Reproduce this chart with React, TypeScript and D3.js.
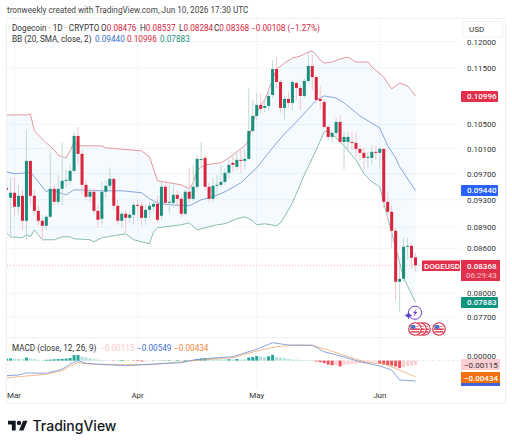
import React from "react";
import * as d3 from "d3";

const opens = [.09481,.09330,.09406,.09196,.09360,.08991,.09902,.09360,.09136,.08991,.08919,.09049,.09466,.09270,.09466,.09589,.09589,.09744,.10308,.10015,.09527,.09345,.09421,.09136,.09020,.09421,.09512,.09619,.09211,.08991,.09093,.09034,.09078,.09225,.09211,.09034,.09151,.09196,.09240,.09064,.09497,.09255,.09255,.09375,.09315,.09093,.09421,.09315,.09497,.09918,.09950,.09497,.09315,.09512,.09527,.09573,.09713,.09871,.09807,.09918,.09902,.09934,.10391,.10646,.10836,.10784,.10818,.11012,.11481,.11244,.10784,.10941,.10871,.11226,.11136,.10994,.11262,.11537,.11334,.10941,.10888,.10459,.10292,.10358,.10543,.10209,.10209,.10209,.10193,.10095,.10031,.09950,.09950,.10047,.10031,.10095,.09270,.09122,.08847,.08150,.08189,.08622,.08636,.08476];
const highs = [.09729,.09635,.09650,.09527,.09451,.10408,.09902,.09451,.09225,.09078,.09078,.10031,.09527,.09682,.10193,.09760,.09839,.10375,.10459,.10079,.09604,.09481,.09481,.09225,.09573,.09604,.09791,.09635,.09300,.09122,.09151,.09122,.09270,.09300,.09255,.09225,.09255,.09300,.09360,.09573,.09604,.09527,.09527,.09451,.09345,.09451,.09791,.09839,.09998,.10209,.09998,.09558,.09635,.09682,.09839,.09791,.09918,.09998,.10063,.10079,.10079,.11136,.10923,.11047,.11030,.10923,.11100,.11648,.11705,.11280,.10994,.11065,.11280,.11262,.11190,.11316,.11800,.11743,.11372,.11172,.10923,.10492,.10408,.10611,.10663,.10375,.10375,.10375,.10358,.10160,.10112,.10047,.10160,.10144,.10128,.10095,.09421,.09225,.08890,.08375,.08748,.08748,.08678,.08537];
const lows = [.09345,.08748,.09049,.09078,.08861,.08720,.09225,.09078,.08933,.08706,.08861,.09034,.09225,.09225,.09225,.09481,.09527,.09729,.09839,.09375,.09300,.09270,.09078,.08890,.08933,.09330,.09451,.09151,.08933,.08890,.08819,.08962,.08933,.09078,.08919,.08933,.09034,.09122,.08962,.09005,.09211,.09107,.09181,.09225,.09049,.09064,.09255,.09285,.09451,.09791,.09451,.09255,.09270,.09375,.09497,.09527,.09635,.09729,.09760,.09713,.09760,.09918,.10358,.10577,.10697,.10715,.10749,.10958,.11136,.10697,.10577,.10784,.10749,.10923,.10749,.10958,.11226,.11100,.10871,.10749,.10441,.10242,.10193,.10275,.10193,.09760,.10079,.10079,.09950,.09918,.09760,.09791,.09839,.09918,.09791,.09181,.09005,.08608,.07904,.07766,.08150,.08443,.08321,.08284];
const closes = [.09451,.09406,.09196,.09360,.08991,.09902,.09360,.09136,.08991,.08919,.09049,.09466,.09270,.09466,.09589,.09604,.09744,.10308,.10015,.09527,.09345,.09421,.09136,.09005,.09421,.09512,.09619,.09211,.08991,.09093,.09034,.09078,.09225,.09211,.09034,.09151,.09211,.09240,.09005,.09497,.09255,.09270,.09375,.09315,.09093,.09421,.09315,.09497,.09934,.09934,.09497,.09315,.09512,.09527,.09573,.09713,.09839,.09839,.09918,.09902,.09934,.10391,.10646,.10836,.10766,.10818,.10994,.11481,.11244,.10784,.10941,.10871,.11244,.11136,.10994,.11262,.11537,.11334,.10923,.10905,.10459,.10292,.10358,.10543,.10209,.10292,.10292,.10193,.10095,.10031,.09950,.09966,.10047,.10031,.10095,.09270,.09122,.08847,.08150,.08189,.08622,.08636,.08471,.08368];

const upperDays = [0,5,6,7,10,12,13,14,15,16,17,18,24,25,28,34,36,38,41,44,46,47,48,50,54,56,60,61,62,63,65,66,68,70,72,74,76,77,78,79,80,82,84,86,88,91,92,95,97,99,101,103];
const upperBand = [.10663,.10663,.10680,.10391,.10193,.10079,.09998,.09966,.09950,.10063,.10209,.10144,.10144,.10112,.10095,.10063,.09966,.09589,.09558,.09527,.09466,.09558,.09760,.09839,.09871,.09950,.10144,.10242,.10526,.10715,.10923,.11100,.11481,.11592,.11685,.11724,.11800,.11819,.11743,.11648,.11592,.11611,.11667,.11705,.11611,.11611,.11519,.11334,.11118,.11226,.11172,.10996];
const basisDays = [0,2,5,6,7,9,10,11,15,17,24,29,34,36,38,41,46,48,49,52,55,59,63,65,68,70,73,76,78,80,83,85,89,94,96,98,99,103];
const basisBand = [.09729,.09698,.09713,.09729,.09650,.09497,.09421,.09451,.09375,.09451,.09436,.09436,.09406,.09315,.09255,.09225,.09211,.09270,.09300,.09345,.09421,.09558,.09791,.09950,.10193,.10342,.10543,.10766,.10923,.10994,.10958,.10871,.10646,.10441,.10144,.09950,.09807,.09440];
const lowerDays = [0,1,4,5,6,7,8,9,12,14,16,17,21,22,24,27,30,32,36,37,38,44,46,48,53,55,58,60,62,63,65,68,69,70,72,75,78,80,81,83,85,88,90,92,94,95,98,100,103];
const lowerBand = [.08819,.08762,.08748,.08790,.08762,.08861,.08790,.08720,.08720,.08762,.08762,.08734,.08720,.08692,.08748,.08776,.08805,.08720,.08664,.08833,.08890,.08933,.08962,.08861,.08933,.08948,.09020,.09049,.08991,.08933,.08948,.08919,.08962,.09049,.09255,.09682,.10079,.10375,.10391,.10275,.10144,.09918,.09698,.09573,.09497,.09255,.08608,.08202,.07883];

const histValues = [.00054,.00059,.00049,.00043,.00038,.00081,.00054,.00041,.00027,.00016,.00022,.00027,.00035,.00041,.00046,.00054,.00068,.00148,.00150,.00108,.00081,.00065,.00043,.00027,.00016,.00008,.00005,-.00005,.00005,.00016,.00011,.00005,-.00008,-.00014,-.00022,-.00016,-.00008,.00005,.00003,.00005,.00008,.00011,.00005,.00014,.00008,.00016,.00005,.00016,.00038,.00054,.00068,.00068,.00059,.00043,.00035,.00032,.00038,.00032,.00043,.00032,.00032,.00081,.00095,.00122,.00108,.00089,.00116,.00154,.00095,.00081,.00068,.00041,.00027,.00027,.00016,.00014,.00011,.00011,-.00022,-.00043,-.00070,-.00108,-.00127,-.00116,-.00157,-.00122,-.00108,-.00095,-.00081,-.00070,-.00059,-.00054,-.00041,-.00027,-.00076,-.00108,-.00122,-.00135,-.00162,-.00203,-.00176,-.00149,-.00135,-.00115];
const macdDays = [0,3,5,10,14,16,18,20,23,30,36,44,47,52,57,61,63,67,71,77,80,85,89,94,97,99,103];
const macdLine = [-.00406,-.00387,-.00333,-.00341,-.00234,-.00091,-.00003,-.00073,-.00099,-.00137,-.00099,-.00056,.00016,.00070,.00105,.00239,.00304,.00481,.00419,.00411,.00239,.00097,-.00030,-.00145,-.00253,-.00522,-.00549];
const signalDays = [0,3,10,14,16,18,20,23,30,36,47,52,57,63,68,73,77,81,86,91,95,99,103];
const signalLine = [-.00476,-.00433,-.00368,-.00272,-.00145,-.00056,-.00083,-.00099,-.00110,-.00110,-.00003,.00043,.00078,.00258,.00374,.00419,.00411,.00285,.00105,-.00056,-.00091,-.00253,-.00434];

const priceTicks = [.12, .115, .105, .101, .097, .093, .089, .086, .08, .077];
const monthLabels = ["Mar", "Apr", "May", "Jun"];
const monthDays = [2, 33, 63, 94];

const FONT = "Roboto, sans-serif";
const RED = "#d9243c";
const GREEN = "#1b8f7d";

const x = d3.scaleLinear().domain([0, 103]).range([6.6, 415.5]);
const y = d3.scaleLog().domain([0.115, 0.077]).range([68, 317]);
const yM = d3.scaleLinear().domain([0, -0.00549]).range([360.6, 381]);

const bandPath = (days: number[], vals: number[], sc: (v: number) => number) =>
  d3.line<number>().x((_, i) => x(days[i])).y((v) => sc(v))(vals) as string;

const histColor = (i: number) => {
  const v = histValues[i];
  const p = i > 0 ? histValues[i - 1] : 0;
  if (v >= 0) return v > p ? "#26a69a" : "#b2dfdb";
  return v < p ? "#f0525c" : "#ffcdd2";
};

function Flag({ cx, cy }: { cx: number; cy: number }) {
  return (
    <g>
      <circle cx={cx} cy={cy} r={6.3} fill="#fff" stroke="#d9243c" strokeWidth={1.1} />
      <rect x={cx - 4.8} y={cy - 0.5} width={9.6} height={1.4} fill="#d9243c" />
      <rect x={cx - 4.2} y={cy + 2.2} width={8.4} height={1.3} fill="#d9243c" />
      <rect x={cx - 4.6} y={cy - 3.8} width={5} height={3.4} fill="#3f6fc0" />
      <rect x={cx + 0.6} y={cy - 3.2} width={3.6} height={1.1} fill="#e8808c" />
    </g>
  );
}

export default function App() {
  const xs = opens.map((_, i) => x(i));
  const polyU = upperBand.map((v, i) => [x(upperDays[i]), y(v)]);
  const polyL = lowerBand.map((v, i) => [x(lowerDays[i]), y(v)]).reverse();
  const bandFill = "M" + [...polyU, ...polyL].map((p) => p.join(",")).join("L") + "Z";
  const lastY = y(closes[103]);
  const label = (top: number, h: number, w: number, fill: string, txt: string, color = "#fff") => (
    <g>
      <rect x={461} y={top} width={w} height={h} fill={fill} rx={1} />
      <text x={467} y={top + 8.3} fontSize={8} fontWeight={500} fontFamily={FONT} fill={color}>{txt}</text>
    </g>
  );
  return (
    <svg width={512} height={444} style={{ position: "absolute", left: 0, top: 0, background: "#fff" }}>
      <defs>
        <clipPath id="plot"><rect x={7} y={18} width={453} height={320} /></clipPath>
        <clipPath id="pane"><rect x={7} y={338} width={453} height={50} /></clipPath>
      </defs>
      <text x={7} y={13} fontSize={8.2} fontFamily={FONT} fill="#444">tronweekly created with TradingView.com, Jun 10, 2026 17:30 UTC</text>
      <rect x={6.5} y={18.5} width={499} height={385} fill="#fff" stroke="#f0f0f2" />

      {priceTicks.map((t) => (
        <line key={t} x1={7} x2={460} y1={y(t)} y2={y(t)} stroke="#f3f5f9" />
      ))}
      {monthDays.map((d) => (
        <line key={d} x1={x(d)} x2={x(d)} y1={19} y2={388} stroke="#f3f5f9" />
      ))}
      <line x1={7} x2={505} y1={337.5} y2={337.5} stroke="#f0f0f2" />

      <g clipPath="url(#plot)">
        <path d={bandFill} fill="#2196f3" fillOpacity={0.05} />
        <line x1={7} x2={460} y1={lastY} y2={lastY} stroke="#f3b4ba" strokeWidth={1} strokeDasharray="1 2" />
        <path d={bandPath(upperDays, upperBand, y)} fill="none" stroke="#dc7f86" strokeWidth={0.8} />
        <path d={bandPath(basisDays, basisBand, y)} fill="none" stroke="#6c8fd2" strokeWidth={0.8} />
        <path d={bandPath(lowerDays, lowerBand, y)} fill="none" stroke="#6cae97" strokeWidth={0.8} />
        {xs.map((cx, i) => {
          const up = closes[i] >= opens[i];
          const top = y(Math.max(opens[i], closes[i]));
          const bot = y(Math.min(opens[i], closes[i]));
          return (
            <g key={i}>
              <line x1={cx} x2={cx} y1={y(highs[i])} y2={y(lows[i])} stroke={up ? "#c4d9d4" : "#f6c6cb"} strokeWidth={1} />
              <rect x={cx - 1.5} y={top} width={3} height={Math.max(bot - top, 1)} fill={up ? GREEN : RED} />
            </g>
          );
        })}
      </g>

      <g clipPath="url(#pane)">
        <line x1={7} x2={460} y1={yM(0)} y2={yM(0)} stroke="#e8eaee" strokeDasharray="3 2" />
        {xs.map((cx, i) => {
          const a = yM(histValues[i]);
          const b = yM(0);
          return <rect key={i} x={cx - 1.5} width={3} y={Math.min(a, b)} height={Math.abs(a - b)} fill={histColor(i)} />;
        })}
        <path d={bandPath(signalDays, signalLine, yM)} fill="none" stroke="#f0ab74" strokeWidth={0.8} />
        <path d={bandPath(macdDays, macdLine, yM)} fill="none" stroke="#6c8fd2" strokeWidth={0.8} />
      </g>

      <text x={12} y={31} fontSize={8.2} fontFamily={FONT} fill="#333">
        Dogecoin · 1D · CRYPTO
        <tspan x={101}>O</tspan><tspan fill={RED}>0.08476</tspan>
        <tspan x={140}>H</tspan><tspan fill={RED}>0.08537</tspan>
        <tspan x={179}>L</tspan><tspan fill={RED}>0.08284</tspan>
        <tspan x={214}>C</tspan><tspan fill={RED}>0.08368</tspan>
        <tspan x={251} fill={RED}>−0.00108 (−1.27%)</tspan>
      </text>
      <text x={12} y={42} fontSize={8.2} fontFamily={FONT} fill="#333">
        BB (20, SMA, close, 2)
        <tspan x={95} fill="#3c6fd0">0.09440</tspan>
        <tspan x={127} fill={RED}>0.10996</tspan>
        <tspan x={160} fill="#1b8f7d">0.07883</tspan>
      </text>
      <text x={12} y={351} fontSize={8.2} fontFamily={FONT} fill="#333">
        MACD (close, 12, 26, 9)
        <tspan x={100} fill="#f7c6cc">−0.00115</tspan>
        <tspan x={137} fill="#3c6fd0">−0.00549</tspan>
        <tspan x={174} fill="#ef8a3c">−0.00434</tspan>
      </text>

      {priceTicks.map((t) => (
        <text key={t} x={467} y={y(t) + 3} fontSize={8} fontFamily={FONT} fill="#333">{t.toFixed(5)}</text>
      ))}
      <rect x={463} y={21} width={40} height={16} fill="#fff" stroke="#f2f2f4" rx={2} />
      <text x={469} y={32} fontSize={8} fontFamily={FONT} fill="#333">USD</text>

      {label(91, 11, 37, "#e2304a", "0.10996")}
      {label(185, 11, 37, "#2962ff", "0.09440")}
      {label(297, 11, 37, "#0f9480", "0.07883")}
      <rect x={422} y={260.5} width={38} height={10.5} fill="#e2304a" />
      <text x={424} y={268.8} fontSize={8} fontWeight={500} fontFamily={FONT} fill="#fff">DOGEUSD</text>
      <rect x={461} y={260} width={39} height={21} fill="#e2304a" />
      <text x={467} y={268.8} fontSize={8} fontWeight={500} fontFamily={FONT} fill="#fff">0.08368</text>
      <text x={466} y={278} fontSize={8} fontFamily={FONT} fill="#f8c6cc">06:29:43</text>

      <circle cx={415} cy={312.7} r={6.6} fill="#fff" stroke="#7b3fd1" strokeWidth={1} />
      <path d="M416.8 308.5 L412.8 313.2 L415 313.2 L413.4 317 L417.4 312 L415.2 312 Z" fill="#7b3fd1" />
      <path d="M408.5 311.5 L409.7 314.3 L412.5 315.5 L409.7 316.7 L408.5 319.5 L407.3 316.7 L404.5 315.5 L407.3 314.3 Z" fill="#5b3fd1" />
      <Flag cx={424} cy={329} />
      <Flag cx={420} cy={329} />
      <Flag cx={415} cy={329} />
      <Flag cx={439} cy={329} />

      <text x={467} y={359} fontSize={8} fontFamily={FONT} fill="#333">0.00000</text>
      <rect x={461} y={359} width={39} height={11} fill="#fbcfd4" />
      <text x={464} y={367.6} fontSize={8} fontFamily={FONT} fill="#333">−0.00115</text>
      <rect x={461} y={383} width={39} height={3} fill="#3f66d8" />
      <rect x={461} y={372} width={39} height={11} fill="#f2700f" />
      <text x={464} y={380.6} fontSize={8} fontWeight={500} fontFamily={FONT} fill="#fff">−0.00434</text>

      {monthLabels.map((m, i) => (
        <text key={m} x={i === 0 ? 7 : x(monthDays[i])} y={398} textAnchor={i === 0 ? "start" : "middle"} fontSize={8} fontFamily={FONT} fill="#333">{m}</text>
      ))}

      <g transform="translate(8,418.5) scale(0.55)" fill="#131722">
        <path d="M14 22H7V11H0V4h14v18zM28 22h-8l7.5-18h8L28 22z" />
        <circle cx={20} cy={8} r={4} />
      </g>
      <text x={32.5} y={431} fontSize={14} fontWeight={500} fontFamily="Inter, Roboto, sans-serif" fill="#131722">TradingView</text>
    </svg>
  );
}
